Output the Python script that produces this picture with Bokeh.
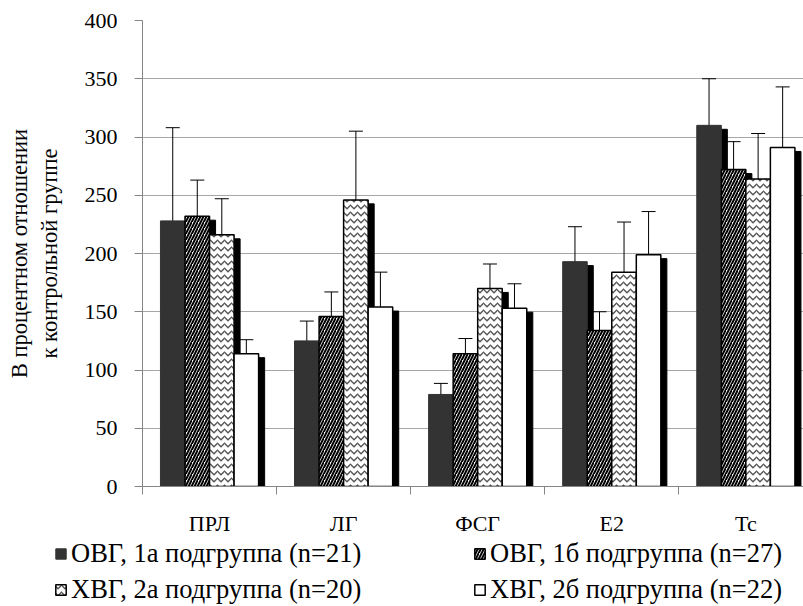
from bokeh.plotting import figure
from bokeh.layouts import column
from bokeh.models import (Range1d, FixedTicker, Whisker, ColumnDataSource,
                          Legend, LegendItem, TeeHead)
from bokeh.embed import file_html
from bokeh.resources import INLINE

# ---------------- data ----------------
categories = ["ПРЛ", "ЛГ", "ФСГ", "E2", "Tc"]
series_names = ["ОВГ, 1а подгруппа (n=21)", "ОВГ, 1б подгруппа (n=27)",
                "ХВГ, 2а подгруппа (n=20)", "ХВГ, 2б подгруппа (n=22)"]
ovg_1a = [228, 125, 79, 193, 310]
ovg_1a_err = [80, 17, 9.5, 30, 40]
ovg_1b = [232, 146, 114, 134, 272]
ovg_1b_err = [31, 21, 13, 16, 24]
hvg_2a = [216, 246, 170, 184, 264]
hvg_2a_err = [31, 59, 21, 43, 39]
hvg_2b = [114, 154, 153, 199, 291]
hvg_2b_err = [12, 30, 21, 37, 52]
y_ticks = [0, 50, 100, 150, 200, 250, 300, 350, 400]

values = [ovg_1a, ovg_1b, hvg_2a, hvg_2b]
errors = [ovg_1a_err, ovg_1b_err, hvg_2a_err, hvg_2b_err]

# ---------------- styles ----------------
FONT = "Liberation Serif"
styles = [
    dict(fill_color="#333333", line_color="#333333", line_width=1),
    dict(fill_color="white", line_color="black", line_width=1.5,
         hatch_pattern="/", hatch_color="black", hatch_scale=6, hatch_weight=2),
    dict(fill_color="white", line_color="black", line_width=1.5,
         hatch_pattern="v", hatch_color="#555555", hatch_scale=7, hatch_weight=1.3),
    dict(fill_color="white", line_color="black", line_width=1.5),
]
bar_w = 0.183
offsets = [-1.5, -0.5, 0.5, 1.5]
shadow_dx = 0.045
shadow_dy = 3.4

p = figure(width=803, height=538, output_backend="svg", toolbar_location=None,
           x_range=Range1d(0, 4.93), y_range=Range1d(0, 400),
           min_border_left=142, min_border_right=0, min_border_top=20,
           min_border_bottom=49)
p.frame_align = False
p.outline_line_color = None
p.background_fill_color = "white"
p.xgrid.visible = False
p.ygrid.ticker = FixedTicker(ticks=y_ticks)
p.ygrid.grid_line_color = "#a6a6a6"
p.ygrid.grid_line_width = 1

centers = [i + 0.5 for i in range(len(categories))]

for k in range(4):
    xs = [c + offsets[k] * bar_w for c in centers]
    sx = [x + shadow_dx for x in xs]
    stop = [v - shadow_dy for v in values[k]]
    p.vbar(x=sx, top=stop, bottom=0, width=bar_w, fill_color="black",
           line_color="black")
    p.vbar(x=xs, top=values[k], bottom=0, width=bar_w, **styles[k])

for k in range(4):
    xs = [c + offsets[k] * bar_w for c in centers]
    src = ColumnDataSource(dict(
        x=xs,
        upper=[v + e for v, e in zip(values[k], errors[k])],
        lower=[v - e for v, e in zip(values[k], errors[k])]))
    w = Whisker(source=src, base="x", upper="upper", lower="lower",
                line_color="black", line_width=1,
                upper_head=TeeHead(size=14, line_color="black", line_width=1),
                lower_head=TeeHead(size=14, line_color="black", line_width=1))
    p.add_layout(w)

# axes
ax = p.xaxis[0]
ax.ticker = FixedTicker(ticks=centers, minor_ticks=list(range(len(categories) + 1)))
ax.major_label_overrides = {c: name for c, name in zip(centers, categories)}
ax.major_tick_out = 0
ax.major_tick_in = 0
ax.minor_tick_out = 8
ax.minor_tick_in = 0
ax.minor_tick_line_color = "#868686"
ax.axis_line_color = "#868686"
ax.major_label_standoff = 16
ax.major_label_text_font = FONT
ax.major_label_text_font_size = "22px"
ax.major_label_text_color = "black"

ay = p.yaxis[0]
ay.ticker = FixedTicker(ticks=y_ticks)
ay.major_tick_out = 8
ay.major_tick_in = 0
ay.minor_tick_line_color = None
ay.major_tick_line_color = "#868686"
ay.axis_line_color = "#868686"
ay.major_label_standoff = 17
ay.major_label_text_font = FONT
ay.major_label_text_font_size = "22px"
ay.major_label_text_color = "black"
ay.axis_label = "В процентном отношении\nк контрольной группе"
ay.axis_label_text_font = FONT
ay.axis_label_text_font_size = "22.5px"
ay.axis_label_text_font_style = "normal"
ay.axis_label_text_color = "black"
ay.axis_label_standoff = 20

# ---------------- legend (separate strip below, frame spans full width) ----------------
lg = figure(width=803, height=68, output_backend="svg", toolbar_location=None,
            x_range=Range1d(0, 1), y_range=Range1d(0, 1),
            x_axis_type=None, y_axis_type=None,
            min_border_left=0, min_border_right=0, min_border_top=0,
            min_border_bottom=0)
lg.frame_align = False
lg.outline_line_color = None
lg.xgrid.visible = False
lg.ygrid.visible = False
leg_renderers = []
for k in range(4):
    r = lg.vbar(x=[0.5], top=[1], width=0.1, **styles[k])
    r.visible = False
    leg_renderers.append(r)

legend_kw = dict(
    orientation="vertical",
    border_line_color=None, background_fill_alpha=0,
    inactive_fill_alpha=0,
    padding=0, margin=0, spacing=5,
    glyph_width=13, glyph_height=13, label_height=24,
    label_standoff=4,
    label_text_font=FONT, label_text_font_size="26.5px", label_text_color="black")

legend_left = Legend(
    items=[LegendItem(label=series_names[k], renderers=[leg_renderers[k]]) for k in (0, 2)],
    location=(54, 1), **legend_kw)
legend_right = Legend(
    items=[LegendItem(label=series_names[k], renderers=[leg_renderers[k]]) for k in (1, 3)],
    location=(473, 1), **legend_kw)
lg.add_layout(legend_left, "center")
lg.add_layout(legend_right, "center")

layout = column(p, lg, spacing=0)
open("out.html", "w").write(file_html(layout, INLINE))
